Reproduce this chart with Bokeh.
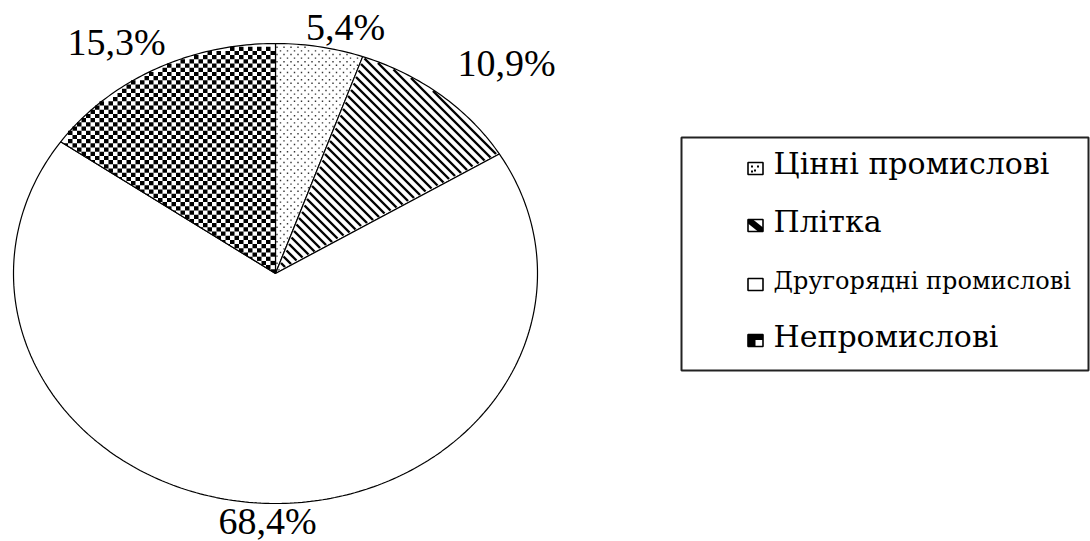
import math
from bokeh.plotting import figure
from bokeh.models import Range1d
from bokeh.core.properties import value
from bokeh.embed import file_html
from bokeh.resources import INLINE

# ---- data ----
categories = ["Цінні промислові", "Плітка", "Другорядні промислові", "Непромислові"]
shares = [5.4, 10.9, 68.4, 15.3]
patterns = ["dots", "stripes", "none", "checker"]

# ---- layout ----
W, H = 1090, 541
CX, CY, RX, RY = 275, 273, 262, 230
label_base = [(345, 41), (506, 77), (267, 535), (116, 56)]
LABEL_SIZE = 38
legend_base_y = [174, 232, 289, 347]
legend_icon_y = [168, 225, 284, 340]
legend_size = [30, 30, 24, 30]
FONT = "'DejaVu Serif', serif"
LFONT = "'Liberation Serif', 'DejaVu Serif', serif"
BASE_SHIFT = 0.37  # em offset between requested and drawn baseline

p = figure(width=W, height=H, x_range=Range1d(0, W), y_range=Range1d(H, 0),
           x_axis_type=None, y_axis_type=None, toolbar_location=None,
           output_backend="svg", min_border=0, outline_line_color=None,
           background_fill_color="white", border_fill_color="white")
p.grid.visible = False

total = sum(shares)
bounds = []
acc = 0.0
for v in shares:
    a0 = acc / total * 2 * math.pi
    acc += v
    a1 = acc / total * 2 * math.pi
    bounds.append((a0, a1))


def dvec(t):
    return (RX * math.sin(t), -RY * math.cos(t))


def half_planes(a0, a1):
    d0, d1 = dvec(a0), dvec(a1)
    f0 = lambda x, y: (d0[0] * (y - CY) - d0[1] * (x - CX)) / math.hypot(*d0)
    f1 = lambda x, y: ((x - CX) * d1[1] - (y - CY) * d1[0]) / math.hypot(*d1)
    return f0, f1


def in_ellipse(x, y, shrink):
    dx = (x - CX) / (RX - shrink)
    dy = (y - CY) / (RY - shrink)
    return dx * dx + dy * dy <= 1.0


def clip(poly, f):
    out = []
    n = len(poly)
    for k in range(n):
        p1, p2 = poly[k], poly[(k + 1) % n]
        v1, v2 = f(*p1), f(*p2)
        if v1 >= 0:
            out.append(p1)
        if (v1 >= 0) != (v2 >= 0):
            s = v1 / (v1 - v2)
            out.append((p1[0] + s * (p2[0] - p1[0]), p1[1] + s * (p2[1] - p1[1])))
    return out


# slices
for i, v in enumerate(shares):
    a0, a1 = bounds[i]
    n = max(4, int(400 * v / total))
    xs, ys = [CX], [CY]
    for k in range(n + 1):
        t = a0 + (a1 - a0) * k / n
        d = dvec(t)
        xs.append(CX + d[0])
        ys.append(CY + d[1])
    p.patch(xs, ys, fill_color="white", line_color=None)

    f0, f1 = half_planes(a0, a1)
    kind = patterns[i]
    if kind == "checker":
        cw, ch = 4.5, 4.2
        pxs, pys = [], []
        j0 = int((CY - RY - 10) / ch)
        j1 = int((CY + 10) / ch) + 1
        i0 = int((CX - RX - 10) / cw)
        i1 = int((CX + 10) / cw) + 1
        for jj in range(j0, j1):
            for ii in range(i0, i1):
                if (ii + jj) % 2:
                    continue
                x0, y0 = ii * cw, jj * ch
                cxm, cym = x0 + cw / 2, y0 + ch / 2
                if not in_ellipse(cxm, cym, 1.5):
                    continue
                poly = [(x0, y0), (x0 + cw, y0), (x0 + cw, y0 + ch), (x0, y0 + ch)]
                poly = clip(clip(poly, f0), f1)
                if len(poly) >= 3:
                    pxs.append([q[0] for q in poly])
                    pys.append([q[1] for q in poly])
        p.patches(pxs, pys, fill_color="black", line_color=None)
    elif kind == "dots":
        dxs, dys = [], []
        sx, sy = 7.0, 3.6
        for jj in range(int((CY - RY) / sy) - 2, int(CY / sy) + 2):
            off = (sx / 2) * (jj % 2)
            for ii in range(int((CX - 20) / sx), int((CX + RX) / sx) + 2):
                x, y = ii * sx + off, jj * sy
                if in_ellipse(x, y, 2) and f0(x, y) > 1.2 and f1(x, y) > 1.2:
                    dxs.append(x)
                    dys.append(y)
        p.rect(dxs, dys, width=1.4, height=1.4, fill_color="#333333", line_color=None)
    elif kind == "stripes":
        period = 9.0
        segs_x, segs_y = [], []
        cmin = (CY - RY) - (CX + RX) - 10
        cmax = (CY + RY) - (CX - RX) + 10
        c = cmin
        while c < cmax:
            run = []
            x = CX - RX - 5
            while x < CX + RX + 5:
                y = x + c
                ok = in_ellipse(x, y, 1.0) and f0(x, y) > 1.0 and f1(x, y) > 1.0
                if ok:
                    run.append((x, y))
                elif run:
                    if len(run) > 1:
                        segs_x.append([run[0][0], run[-1][0]])
                        segs_y.append([run[0][1], run[-1][1]])
                    run = []
                x += 0.5
            if len(run) > 1:
                segs_x.append([run[0][0], run[-1][0]])
                segs_y.append([run[0][1], run[-1][1]])
            c += period
        p.multi_line(segs_x, segs_y, line_color="black", line_width=2.4, line_cap="butt")

    p.patch(xs, ys, fill_color=None, line_color="black", line_width=1.2)

# data labels
lbl_text = [f"{v:.1f}".replace(".", ",") + "%" for v in shares]
p.text(x=[q[0] for q in label_base],
       y=[q[1] - BASE_SHIFT * LABEL_SIZE for q in label_base], text=lbl_text,
       text_font=value(LFONT), text_font_size=f"{LABEL_SIZE}px", text_align="center",
       text_baseline="alphabetic", text_color="black")

# legend
p.quad(left=[681], right=[1088], top=[137], bottom=[370], fill_color=None,
       line_color="#222222", line_width=2)
IX, IW, IH = 755, 15, 12
for i, name in enumerate(categories):
    yc = legend_icon_y[i]
    l, r, t, b = IX - IW / 2, IX + IW / 2, yc - IH / 2, yc + IH / 2
    p.quad(left=[l], right=[r], top=[t], bottom=[b], fill_color="white", line_color=None)
    kind = patterns[i]
    if kind == "dots":
        p.rect([l + 4, l + 10, l + 7, l + 4], [t + 4, t + 4, t + 8, t + 9],
               width=2, height=2, fill_color="black", line_color=None)
    elif kind == "stripes":
        p.patch([l, l + 5, r, r, r - 5, l], [t, t, b - 4, b, b, t + 4],
                fill_color="black", line_color=None)
    elif kind == "checker":
        p.patch([l, r, r, l + IW * 0.5, l + IW * 0.5, l], [t, t, t + IH * 0.45, t + IH * 0.45, b, b],
                fill_color="black", line_color=None)
    p.quad(left=[l], right=[r], top=[t], bottom=[b], fill_color=None,
           line_color="black", line_width=1.6)
    p.text(x=[773], y=[legend_base_y[i] - BASE_SHIFT * legend_size[i]], text=[name],
           text_font=value(FONT), text_font_size=f"{legend_size[i]}px",
           text_align="left", text_baseline="alphabetic", text_color="black")

open("out.html", "w").write(file_html(p, INLINE))
